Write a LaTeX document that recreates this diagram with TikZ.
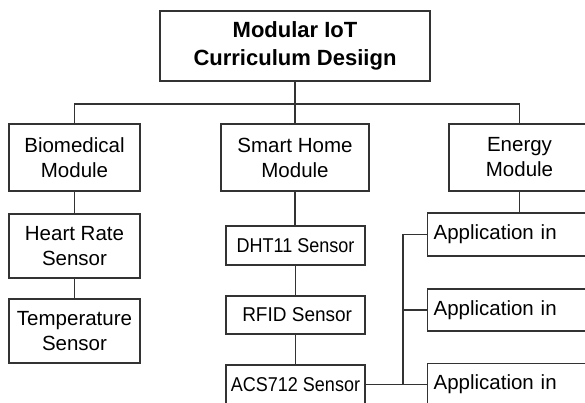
\documentclass[tikz,border=0pt]{standalone}
\usepackage{fontspec}
\setmainfont{Liberation Sans}
\newfontfamily\condfont[FakeStretch=0.9]{Liberation Sans}
\newfontfamily\condfontb[FakeStretch=0.95]{Liberation Sans}
\begin{document}
\begin{tikzpicture}[x=1pt,y=1pt,
  box/.style={draw=black!80, line width=1.2pt, inner sep=0pt, align=center, text=black,
    font=\fontsize{20.5}{25}\selectfont},
  conn/.style={draw=black!80, line width=1.2pt}]
\useasboundingbox (0,0) rectangle (585,402);
\clip (0,0) rectangle (585,402);
\fill[white] (0,0) rectangle (585,402);
% title
\node[box, minimum width=270, minimum height=70, font=\fontsize{22}{28}\selectfont\bfseries]
  (title) at (295,356) {Modular IoT\\Curriculum Desiign};
% modules
\node[box, minimum width=131, minimum height=67] (bio) at (74.5,244.5) {Biomedical\\Module};
\node[box, minimum width=148, minimum height=67] (smart) at (295,244.5) {Smart Home\\Module};
\node[box, minimum width=141, minimum height=67] (energy) at (519.5,244.5) {Energy\\Module};
% biomedical sensors
\node[box, minimum width=131, minimum height=64] (heart) at (74.5,156) {Heart Rate\\Sensor};
\node[box, minimum width=131, minimum height=64] (temp) at (74.5,71) {Temperature\\Sensor};
% smart home sensors
\node[box, minimum width=139, minimum height=39, font=\condfont\fontsize{20}{24}\selectfont] (dht) at (295.5,156.5) {DHT11 Sensor};
\node[box, minimum width=139, minimum height=38, font=\condfontb\fontsize{20}{24}\selectfont] (rfid) at (295.5,87) {\,RFID Sensor};
\node[box, minimum width=139, minimum height=39, font=\condfont\fontsize{20}{24}\selectfont] (acs) at (295.5,17.5) {ACS712 Sensor};
% energy applications
\node[box, minimum width=180, minimum height=43, anchor=west, align=left, text width=168, inner xsep=6pt] (app1) at (427,167.5) {Application in};
\node[box, minimum width=180, minimum height=42, anchor=west, align=left, text width=168, inner xsep=6pt] (app2) at (427,92) {Application in};
\node[box, minimum width=180, minimum height=42, anchor=west, align=left, text width=168, inner xsep=6pt] (app3) at (427,17.5) {Application in};
% connectors
\coordinate (bus) at (295,298);
\draw[conn] (title.south) -- (bus);
\draw[conn] (bio.north) |- (bus) -| (energy.north);
\draw[conn] (bus) -- (smart.north);
\draw[conn] (bio.south) -- (heart.north);
\draw[conn] (heart.south) -- (temp.north);
\draw[conn] (smart.south) -- (smart.south |- dht.north);
\draw[conn] (dht.south) -- (rfid.north);
\draw[conn] (rfid.south) -- (acs.north);
\draw[conn] (energy.south) -- (energy.south |- app1.north);
\coordinate (jx) at (403,0);
\draw[conn] (acs.east) -- (app3.west);
\draw[conn] (app1.west) -- (jx |- app1.west) -- (jx |- app3.west);
\draw[conn] (jx |- app2.west) -- (app2.west);
\end{tikzpicture}
\end{document}
